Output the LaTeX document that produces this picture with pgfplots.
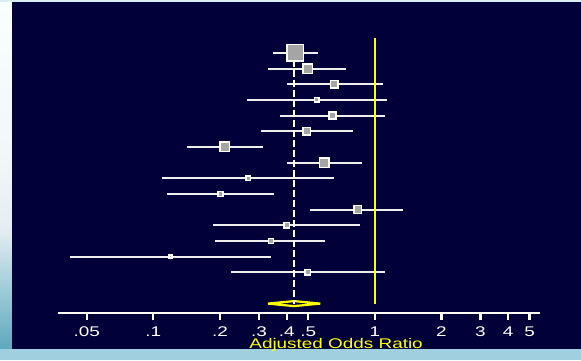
\documentclass[border=0pt]{standalone}
\usepackage{pgfplots}
\pgfplotsset{compat=1.18}
\usepackage{pgfplotstable}
\usepackage{fontspec}
\setmainfont{Liberation Sans}[FakeStretch=1.35]
\definecolor{navy}{RGB}{2,0,56}
\definecolor{boxgray}{RGB}{165,165,165}
\definecolor{ciwhite}{RGB}{238,238,238}
\definecolor{oryellow}{RGB}{255,255,0}
\definecolor{stripbot}{RGB}{160,208,224}
\pgfdeclareverticalshading{leftstrip}{12pt}{%
  rgb(0pt)=(0.37,0.66,0.74);
  rgb(60pt)=(0.62,0.80,0.85);
  rgb(120pt)=(0.90,0.93,0.95);
  rgb(200pt)=(0.95,0.97,0.98);
  rgb(347pt)=(0.97,1,1)}

% y = 16 - row ; est = odds ratio ; s = box half size (pt)
\pgfplotstableread{
y est s
15 0.437 8.2
14 0.498 4.8
13 0.657 3.8
12 0.548 2.3
11 0.645 3.6
10 0.493 3.8
9 0.210 4.8
8 0.592 4.8
7 0.268 2.4
6 0.201 2.6
5 0.838 3.9
4 0.401 2.8
3 0.340 2.6
2 0.1195 1.5
1 0.498 2.6
}\boxdata

\begin{document}
\begin{tikzpicture}
\fill[stripbot!40!white] (0,0) rectangle (581pt,360pt);
\node[inner sep=0pt, anchor=south west] at (0,11pt) {\pgfuseshading{leftstrip}};
\fill[stripbot] (0,0) rectangle (581pt,11pt);
\fill[navy] (12pt,11pt) rectangle (581pt,358pt);
\begin{axis}[
  at={(58.5pt,47pt)}, anchor=south west,
  scale only axis, width=481.1pt, height=283.6pt,
  xmode=log, xmin=0.0373, xmax=5.55,
  ymin=-1.6, ymax=16.5,
  clip=false,
  axis x line=bottom, hide y axis,
  x axis line style={-, white, line width=1.5pt},
  xtick={0.05,0.1,0.2,0.3,0.4,0.5,1,2,3,4,5},
  xticklabels={.05,.1,.2,.3,.4,.5,1,2,3,4,5},
  xminorticks=false,
  xtick align=outside,
  major tick length=7pt,
  xtick style={draw=white, line width=2.2pt},
  /pgf/number format/assume math mode=true,
  xticklabel style={white, font=\fontsize{14}{16}\selectfont, anchor=base, inner sep=0pt, yshift=-16pt},
  xlabel={Adjusted Odds Ratio},
  xlabel style={at={(rel axis cs:0.577,0)}, anchor=base, yshift=-35pt, oryellow, font=\fontsize{14}{16}\selectfont, inner sep=0pt},
]
% boxes
\addplot[scatter, only marks, mark=square*,
  mark options={line width=1.5pt},
  scatter/use mapped color={draw=white, fill=boxgray},
  visualization depends on={\thisrow{s} \as \perpointmarksize},
  scatter/@pre marker code/.append style={/tikz/mark size=\perpointmarksize}]
  table[x=est, y=y] {\boxdata};
% confidence intervals
\addplot[ciwhite, line width=2pt] coordinates {(0.347,15) (0.553,15)};
\addplot[ciwhite, line width=2pt] coordinates {(0.330,14) (0.741,14)};
\addplot[ciwhite, line width=2pt] coordinates {(0.401,13) (1.084,13)};
\addplot[ciwhite, line width=2pt] coordinates {(0.266,12) (1.140,12)};
\addplot[ciwhite, line width=2pt] coordinates {(0.372,11) (1.114,11)};
\addplot[ciwhite, line width=2pt] coordinates {(0.306,10) (0.797,10)};
\addplot[ciwhite, line width=2pt] coordinates {(0.1425,9) (0.3115,9)};
\addplot[ciwhite, line width=2pt] coordinates {(0.401,8) (0.877,8)};
\addplot[ciwhite, line width=2pt] coordinates {(0.109,7) (0.654,7)};
\addplot[ciwhite, line width=2pt] coordinates {(0.115,6) (0.351,6)};
\addplot[ciwhite, line width=2pt] coordinates {(0.508,5) (1.345,5)};
\addplot[ciwhite, line width=2pt] coordinates {(0.185,4) (0.854,4)};
\addplot[ciwhite, line width=2pt] coordinates {(0.1895,3) (0.595,3)};
\addplot[ciwhite, line width=2pt] coordinates {(0.0419,2) (0.3416,2)};
\addplot[ciwhite, line width=2pt] coordinates {(0.2236,1) (1.114,1)};
% null line
\addplot[oryellow, line width=2.5pt] coordinates {(1,15.96) (1,-1)};
% pooled diamond
\addplot[draw=oryellow, fill=navy, line width=2.2pt] coordinates {(0.329,-1) (0.4317,-0.84) (0.568,-1) (0.4317,-1.16) (0.329,-1)} -- cycle;
% pooled estimate line
\addplot[white, line width=1.5pt, dash pattern=on 7pt off 3pt] coordinates {(0.4317,15.2) (0.4317,-1)};
\end{axis}
\end{tikzpicture}
\end{document}
